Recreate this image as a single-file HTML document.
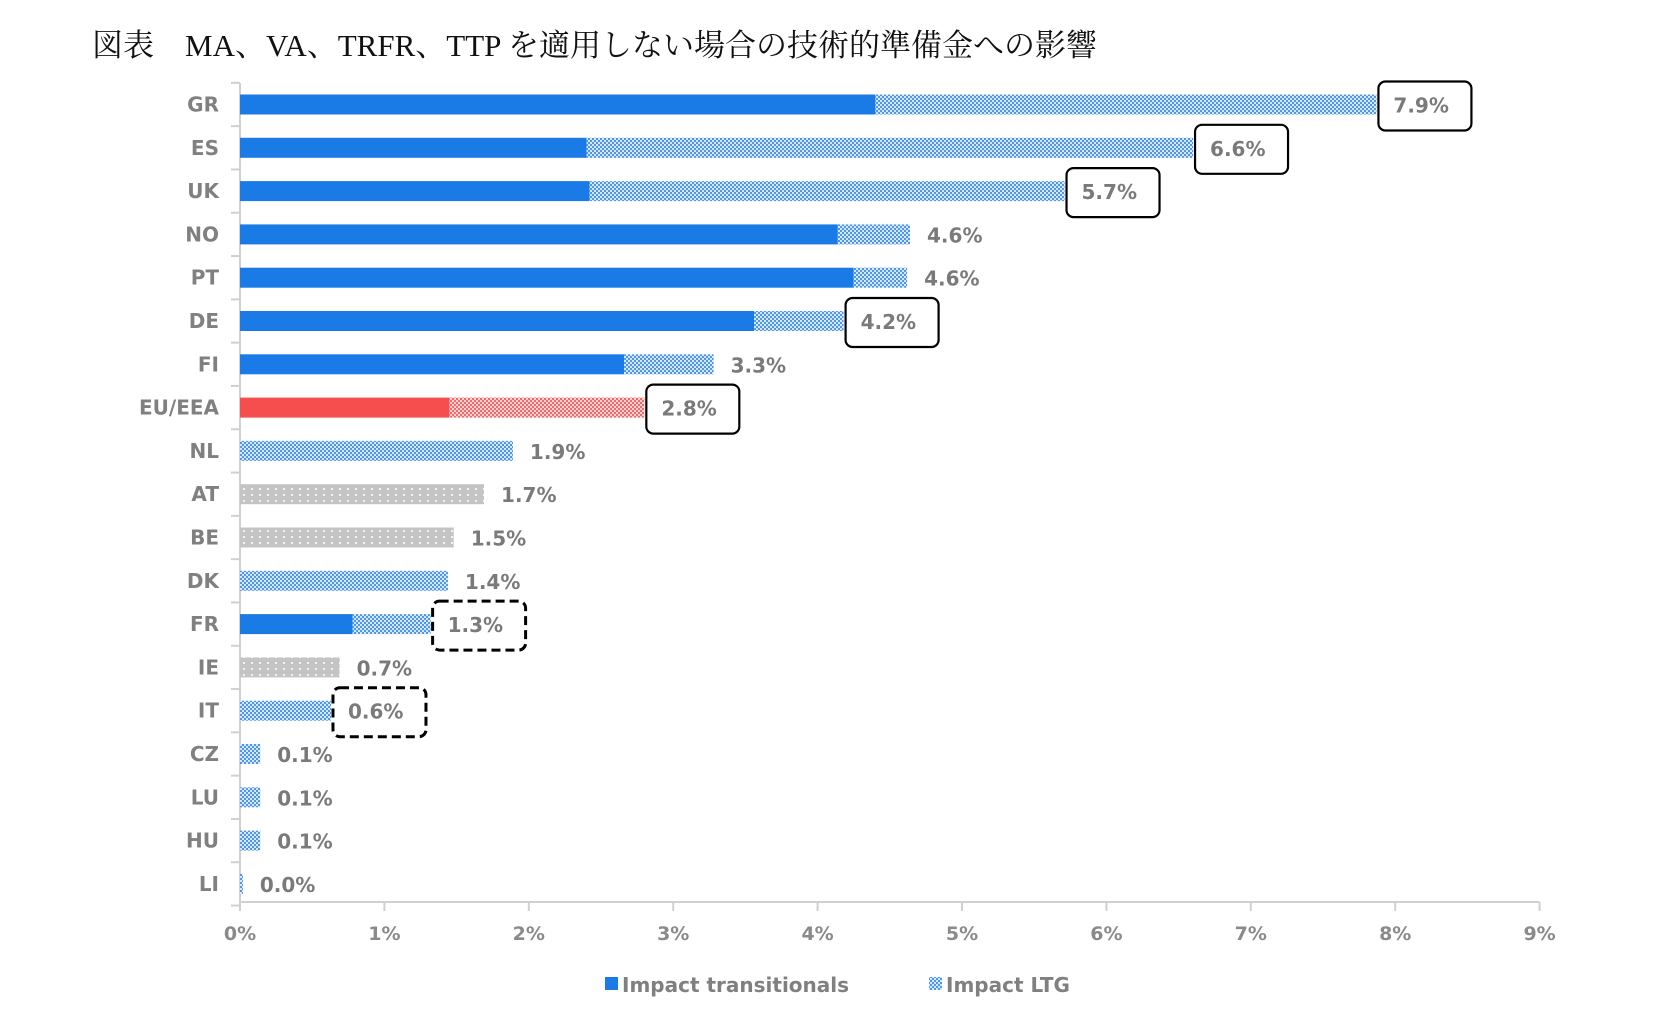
<!DOCTYPE html>
<html><head><meta charset="utf-8">
<style>
html,body{margin:0;padding:0;background:#fff;width:1667px;height:1024px;overflow:hidden}
svg{display:block}
</style></head>
<body>
<svg id="chart" width="1667" height="1024" xmlns="http://www.w3.org/2000/svg">
<defs>
<pattern id="pBlue" width="4" height="4" patternUnits="userSpaceOnUse">
<rect width="4" height="4" fill="#4f97ec"/><rect x="0" y="0" width="2" height="2" fill="#d6e8fb"/><rect x="2" y="2" width="2" height="2" fill="#d6e8fb"/>
</pattern>
<pattern id="pRed" width="4" height="4" patternUnits="userSpaceOnUse">
<rect width="4" height="4" fill="#f26a6a"/><rect x="0" y="0" width="2" height="2" fill="#fbd3d3"/><rect x="2" y="2" width="2" height="2" fill="#fbd3d3"/>
</pattern>
<pattern id="pGray" width="8" height="6" patternUnits="userSpaceOnUse">
<rect width="8" height="6" fill="#c4c4c4"/><rect x="3" y="2" width="2" height="2" fill="#f4f4f4"/>
</pattern>
</defs>
<text x="92" y="56" font-family="'Liberation Serif','Noto Serif CJK SC',serif" font-size="31" fill="#111">図表　MA、VA、TRFR、TTP を適用しない場合の技術的準備金への影響</text>
<g id="plot"></g>
<g>
<rect x="605" y="977" width="13" height="13" fill="#1a7be6"/>
<text x="622" y="992" font-family="'DejaVu Sans',sans-serif" font-weight="bold" font-size="20" fill="#808080">Impact transitionals</text>
<rect x="929" y="977" width="13" height="13" fill="url(#pBlue)"/>
<text x="946" y="992" font-family="'DejaVu Sans',sans-serif" font-weight="bold" font-size="20" fill="#808080">Impact LTG</text>
</g>
</svg>
<script>
const categories=["GR","ES","UK","NO","PT","DE","FI","EU/EEA","NL","AT","BE","DK","FR","IE","IT","CZ","LU","HU","LI"];
const transitionals=[4.40,2.40,2.42,4.14,4.25,3.56,2.66,1.45,0,0,0,0,0.78,0,0,0,0,0,0];
const totals=[7.87,6.60,5.71,4.64,4.62,4.18,3.28,2.80,1.89,1.69,1.48,1.44,1.32,0.69,0.63,0.14,0.14,0.14,0.02];
const valueLabels=["7.9%","6.6%","5.7%","4.6%","4.6%","4.2%","3.3%","2.8%","1.9%","1.7%","1.5%","1.4%","1.3%","0.7%","0.6%","0.1%","0.1%","0.1%","0.0%"];
const seriesKind=["b","b","b","b","b","b","b","r","b","g","g","b","b","g","b","b","b","b","b"];
const boxStyle=["solid","solid","solid","","","solid","","solid","","","","","dashed","","dashed","","","",""];
const xTicks=[0,1,2,3,4,5,6,7,8,9];
const xTickLabels=["0%","1%","2%","3%","4%","5%","6%","7%","8%","9%"];

const NS="http://www.w3.org/2000/svg";
const x0=240,pxPer=144.4,top0=104.5,rowH=43.3,barH=20,axisBottom=902;
const X=v=>x0+v*pxPer;
const Y=i=>top0+i*rowH;
const g=document.getElementById('plot');
function mk(tag,attrs){const e=document.createElementNS(NS,tag);for(const k in attrs)e.setAttribute(k,attrs[k]);g.appendChild(e);return e;}
const FONT="'DejaVu Sans',sans-serif";

// axes
let ya=mk('line',{x1:x0,y1:83,x2:x0,y2:axisBottom,stroke:'#d0d0d0','stroke-width':2});


let xa=mk('line',{x1:x0,y1:axisBottom,x2:X(9),y2:axisBottom,stroke:'#d0d0d0','stroke-width':2});


for(let i=0;i<=categories.length;i++){
  const yy=Y(i)-rowH/2;
  let t=mk('line',{x1:x0-9,y1:yy,x2:x0,y2:yy,stroke:'#d0d0d0','stroke-width':2});
  
  
}
xTicks.forEach((v,i)=>{
  let t=mk('line',{x1:X(v),y1:axisBottom,x2:X(v),y2:axisBottom+9,stroke:'#d0d0d0','stroke-width':2});
  
  
  let l=mk('text',{x:X(v),y:940,'text-anchor':'middle','font-family':FONT,'font-weight':'bold','font-size':19,fill:'#8a8a8a'});
  l.textContent=xTickLabels[i];
  
  
});
categories.forEach((c,i)=>{
  const yc=Y(i);
  let l=mk('text',{x:219,y:yc+7,'text-anchor':'end','font-family':FONT,'font-weight':'bold','font-size':20,fill:'#808080'});
  l.textContent=c;
  
  
  const tr=transitionals[i],tot=totals[i],k=seriesKind[i];
  if(tr>0){
    let b=mk('rect',{x:X(0),y:yc-barH/2,width:X(tr)-X(0),height:barH,fill:k==='r'?'#f64e4e':'#1a7be6'});
    
    
  }
  const fill=k==='r'?'url(#pRed)':k==='g'?'url(#pGray)':'url(#pBlue)';
  let b2=mk('rect',{x:X(tr),y:yc-barH/2,width:Math.max(2,X(tot)-X(tr)),height:barH,fill:fill});
  
  
  const lx=X(tot)+17;
  let v=mk('text',{x:lx,y:yc+8,'font-family':FONT,'font-weight':'bold','font-size':20,fill:'#7a7a7a'});
  v.textContent=valueLabels[i];
  
  
  if(boxStyle[i]){
    let r=mk('rect',{x:X(tot)+2,y:yc-23,width:93,height:49,rx:7,fill:'none',stroke:'#000','stroke-width':2.2});
    if(boxStyle[i]==='dashed'){r.setAttribute('stroke-dasharray','9 5');r.setAttribute('stroke-width','3');}
    
    
  }
});
</script>
</body></html>
